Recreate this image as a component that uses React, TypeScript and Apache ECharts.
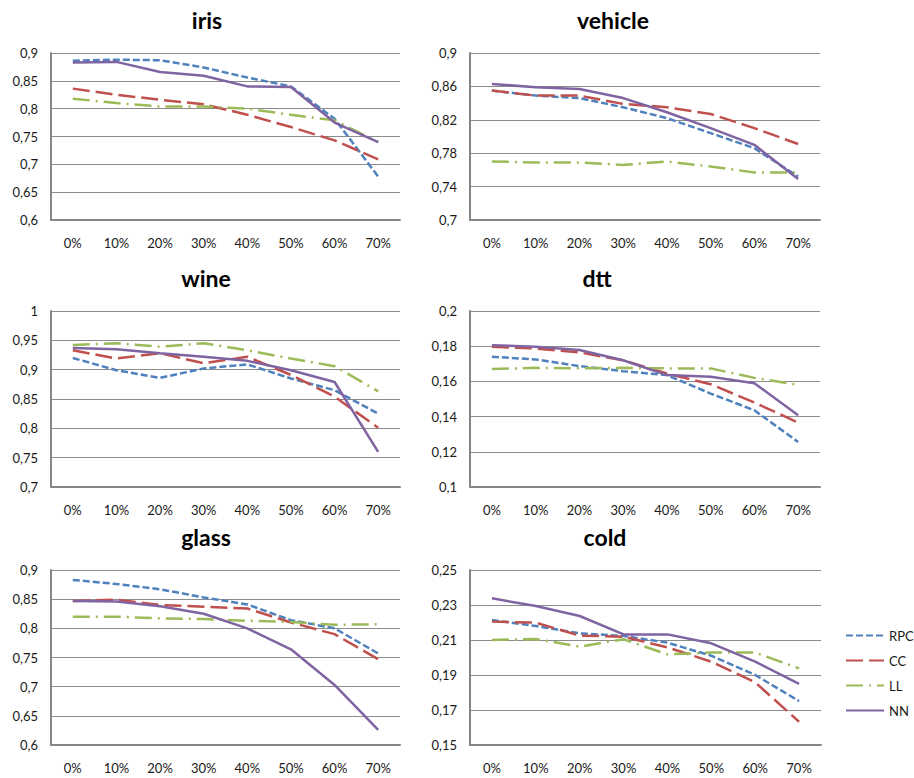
import React, { useEffect, useRef } from "react";
import * as echarts from "echarts";

const CATEGORIES = ["0%", "10%", "20%", "30%", "40%", "50%", "60%", "70%"];
const SERIES_NAMES = ["RPC", "CC", "LL", "NN"];

// iris
const irisRPC = [0.886, 0.888, 0.887, 0.874, 0.856, 0.840, 0.782, 0.678];
const irisCC = [0.836, 0.825, 0.816, 0.808, 0.789, 0.767, 0.743, 0.709];
const irisLL = [0.818, 0.810, 0.804, 0.804, 0.800, 0.789, 0.779, 0.740];
const irisNN = [0.883, 0.884, 0.866, 0.859, 0.840, 0.839, 0.775, 0.740];

// vehicle
const vehicleRPC = [0.855, 0.849, 0.846, 0.835, 0.822, 0.804, 0.786, 0.752];
const vehicleCC = [0.855, 0.849, 0.849, 0.839, 0.835, 0.827, 0.810, 0.791];
const vehicleLL = [0.770, 0.769, 0.769, 0.766, 0.770, 0.764, 0.757, 0.757];
const vehicleNN = [0.863, 0.859, 0.857, 0.846, 0.829, 0.810, 0.790, 0.749];

// wine
const wineRPC = [0.920, 0.899, 0.886, 0.902, 0.909, 0.885, 0.865, 0.825];
const wineCC = [0.933, 0.919, 0.928, 0.911, 0.922, 0.891, 0.854, 0.801];
const wineLL = [0.942, 0.945, 0.939, 0.945, 0.933, 0.919, 0.906, 0.863];
const wineNN = [0.937, 0.935, 0.928, 0.922, 0.915, 0.899, 0.879, 0.760];

// dtt
const dttRPC = [0.174, 0.1725, 0.1687, 0.1658, 0.1636, 0.1531, 0.1436, 0.1256];
const dttCC = [0.1797, 0.1787, 0.1765, 0.172, 0.1645, 0.1584, 0.148, 0.1366];
const dttLL = [0.167, 0.1677, 0.1674, 0.1677, 0.1674, 0.1674, 0.162, 0.158];
const dttNN = [0.1806, 0.1797, 0.1778, 0.172, 0.1636, 0.1626, 0.159, 0.1408];

// glass
const glassRPC = [0.883, 0.876, 0.867, 0.853, 0.841, 0.814, 0.800, 0.757];
const glassCC = [0.847, 0.849, 0.840, 0.837, 0.834, 0.810, 0.790, 0.747];
const glassLL = [0.820, 0.820, 0.817, 0.816, 0.813, 0.811, 0.806, 0.807];
const glassNN = [0.847, 0.846, 0.838, 0.825, 0.800, 0.764, 0.703, 0.626];

// cold
const coldRPC = [0.2214, 0.218, 0.2138, 0.2123, 0.2085, 0.201, 0.19, 0.1751];
const coldCC = [0.2205, 0.2199, 0.2125, 0.2119, 0.2058, 0.1976, 0.1858, 0.1633];
const coldLL = [0.21, 0.2106, 0.2062, 0.2104, 0.2018, 0.2028, 0.2028, 0.1938];
const coldNN = [0.2338, 0.2294, 0.2237, 0.2132, 0.2132, 0.2081, 0.1976, 0.1849];

const PANEL_TITLES = ["iris", "vehicle", "wine", "dtt", "glass", "cold"];
const PANEL_MIN = [0.6, 0.7, 0.7, 0.1, 0.6, 0.15];
const PANEL_MAX = [0.9, 0.9, 1.0, 0.2, 0.9, 0.25];
const PANEL_INTERVAL = [0.05, 0.04, 0.05, 0.02, 0.05, 0.02];
const PANEL_DATA = [
  [irisRPC, irisCC, irisLL, irisNN],
  [vehicleRPC, vehicleCC, vehicleLL, vehicleNN],
  [wineRPC, wineCC, wineLL, wineNN],
  [dttRPC, dttCC, dttLL, dttNN],
  [glassRPC, glassCC, glassLL, glassNN],
  [coldRPC, coldCC, coldLL, coldNN],
];

// layout
const GRIDS = [
  { left: 51, top: 53, width: 349, height: 167 },
  { left: 470, top: 53, width: 350, height: 167 },
  { left: 51, top: 311, width: 349, height: 176 },
  { left: 470, top: 311, width: 350, height: 176 },
  { left: 51, top: 570, width: 349, height: 175 },
  { left: 470, top: 570, width: 351, height: 175 },
];
const TITLE_POS = [
  [207, 20],
  [613, 20],
  [206, 278],
  [597, 278],
  [206, 537],
  [605, 537],
];

const COLORS = ["#4F81BD", "#C0504D", "#9BBB59", "#8064A2"];
const DASHES: any[] = [[7, 3], [17, 6], [17, 6, 2, 6], "solid"];
const FONT = "Lato, 'Open Sans', sans-serif";

function fmt(v: number) {
  return String(+v.toFixed(4)).replace(".", ",");
}

export default function App() {
  const ref = useRef<HTMLDivElement>(null);
  useEffect(() => {
    if (!ref.current) return;
    const chart = echarts.init(ref.current, undefined, { renderer: "svg" });
    const grid = GRIDS.map((g) => ({ ...g, containLabel: false }));
    const xAxis = GRIDS.map((_, i) => ({
      type: "category",
      gridIndex: i,
      data: CATEGORIES,
      boundaryGap: true,
      axisLine: { show: true, lineStyle: { color: "#868686", width: 2 } },
      axisTick: { show: false },
      axisLabel: { color: "#1a1a1a", fontSize: 13, fontFamily: FONT, margin: 16 },
      splitLine: { show: false },
    }));
    const yAxis = GRIDS.map((_, i) => ({
      type: "value",
      gridIndex: i,
      min: PANEL_MIN[i],
      max: PANEL_MAX[i],
      interval: PANEL_INTERVAL[i],
      axisLine: { show: true, lineStyle: { color: "#868686", width: 2 } },
      axisTick: { show: false },
      axisLabel: { color: "#1a1a1a", fontSize: 13, fontFamily: FONT, margin: 13, formatter: fmt },
      splitLine: { show: true, lineStyle: { color: "#8c8c8c", width: 1 } },
    }));
    const series: any[] = [];
    PANEL_DATA.forEach((arrs, p) => {
      arrs.forEach((d, s) => {
        series.push({
          type: "line",
          name: SERIES_NAMES[s],
          xAxisIndex: p,
          yAxisIndex: p,
          data: d,
          symbol: "none",
          z: s === 3 ? 3 : 2,
          lineStyle: { color: COLORS[s], width: 2.5, type: DASHES[s] },
          itemStyle: { color: COLORS[s] },
        });
      });
    });
    const graphic = PANEL_TITLES.map((t, i) => ({
      type: "text",
      x: TITLE_POS[i][0],
      y: TITLE_POS[i][1],
      style: {
        text: t,
        fontSize: 23,
        fontWeight: "bold",
        fontFamily: FONT,
        fill: "#000",
        align: "center",
        verticalAlign: "middle",
      },
    }));
    chart.setOption({
      animation: false,
      backgroundColor: "#fff",
      grid,
      xAxis,
      yAxis,
      series,
      graphic,
      legend: {
        orient: "vertical",
        left: 840,
        top: 624,
        itemWidth: 38,
        itemHeight: 12,
        itemGap: 12,
        data: SERIES_NAMES,
        itemStyle: { opacity: 0 },
        textStyle: { fontSize: 13, fontFamily: FONT, color: "#1a1a1a" },
        selectedMode: false,
      },
    });
    return () => chart.dispose();
  }, []);
  return (
    <div
      ref={ref}
      style={{ position: "fixed", left: 0, top: 0, width: 914, height: 778, background: "#fff" }}
    />
  );
}
